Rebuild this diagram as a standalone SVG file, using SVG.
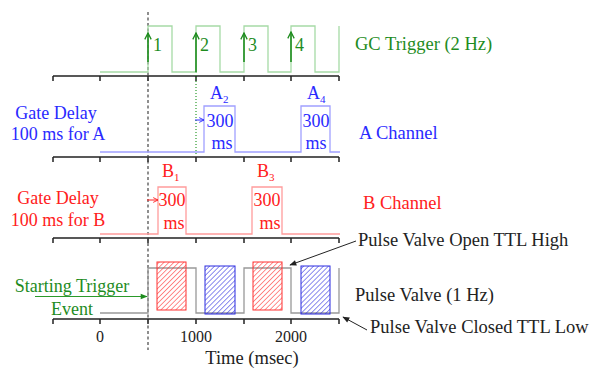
<svg xmlns="http://www.w3.org/2000/svg" width="590" height="369" viewBox="0 0 590 369">
  <style>
    text { font-family: "Liberation Serif", "Times New Roman", serif; font-size: 18px; }
    .lbl { font-size: 18.5px; }
    .g { fill: #1e8c1e; }
    .b { fill: #2a2aff; }
    .r { fill: #ff2020; }
    .k { fill: #222; }
    .sub { font-size: 11px; }
    .num { font-size: 16px; }
    .axis { stroke: #222; stroke-width: 1.5; fill: none; }
    .wave { fill: none; stroke-width: 1.3; }
  </style>
  <defs>
    <marker id="chev" viewBox="0 0 10 10" refX="9" refY="5" markerWidth="8" markerHeight="8" orient="auto" markerUnits="userSpaceOnUse">
      <path d="M1,1 L9,5 L1,9" fill="none" stroke="#1e8c1e" stroke-width="1.6"/>
    </marker>
    <marker id="headB" viewBox="0 0 10 10" refX="9" refY="5" markerWidth="6" markerHeight="6" orient="auto" markerUnits="userSpaceOnUse">
      <path d="M1,1 L9,5 L1,9" fill="none" stroke="#2a2aff" stroke-width="1.5"/>
    </marker>
    <marker id="headR" viewBox="0 0 10 10" refX="9" refY="5" markerWidth="6" markerHeight="6" orient="auto" markerUnits="userSpaceOnUse">
      <path d="M1,1 L9,5 L1,9" fill="none" stroke="#ff2020" stroke-width="1.5"/>
    </marker>
    <marker id="headG" viewBox="0 0 10 10" refX="9" refY="5" markerWidth="8" markerHeight="7" orient="auto" markerUnits="userSpaceOnUse">
      <path d="M0,1 L10,5 L0,9 Z" fill="#1e8c1e"/>
    </marker>
    <marker id="headK" viewBox="0 0 10 10" refX="9" refY="5" markerWidth="9" markerHeight="7" orient="auto" markerUnits="userSpaceOnUse">
      <path d="M0,1 L10,5 L0,9 Z" fill="#222"/>
    </marker>
    <pattern id="hatchR" width="3.5" height="3.5" patternUnits="userSpaceOnUse" patternTransform="rotate(45)">
      <line x1="0" y1="0" x2="0" y2="3.5" stroke="#ff3030" stroke-width="1.1"/>
    </pattern>
    <pattern id="hatchB" width="3.5" height="3.5" patternUnits="userSpaceOnUse" patternTransform="rotate(45)">
      <line x1="0" y1="0" x2="0" y2="3.5" stroke="#2a2ae0" stroke-width="1.1"/>
    </pattern>
  </defs>

  <!-- time axes, one under each trace -->
  <g id="axes">
    <path class="axis" d="M53,76 H339 M53,157 H339 M53,238 H339 M53,319 H339"/>
    <path class="axis" stroke-width="1.2"
      d="M53,76 v5 M100,76 v5 M148,76 v5 M196,76 v5 M244,76 v5 M291,76 v5 M339,76 v5
         M53,157 v5 M100,157 v5 M148,157 v5 M196,157 v5 M244,157 v5 M291,157 v5 M339,157 v5
         M53,238 v5 M100,238 v5 M148,238 v5 M196,238 v5 M244,238 v5 M291,238 v5 M339,238 v5
         M53,319 v5 M100,319 v5 M148,319 v5 M196,319 v5 M244,319 v5 M291,319 v5 M339,319 v5"/>
    <text class="k num" x="100" y="342" text-anchor="middle">0</text>
    <text class="k num" x="196" y="342" text-anchor="middle">1000</text>
    <text class="k num" x="291" y="342" text-anchor="middle">2000</text>
    <text class="k lbl" x="252" y="364" text-anchor="middle">Time (msec)</text>
  </g>

  <!-- reference lines: start event and first triggered gate -->
  <g id="guides">
    <line x1="148" y1="12" x2="148" y2="350" stroke="#444" stroke-width="1.2" stroke-dasharray="3,2.5"/>
    <line x1="196" y1="72" x2="196" y2="156" stroke="#2a9a2a" stroke-width="1.2" stroke-dasharray="1,2"/>
  </g>

  <!-- GC trigger trace -->
  <g id="gc-trigger">
    <path class="wave" stroke="#a6daa6" d="M100,72 H148 V26 H172 V72 H196 V26 H220 V72 H244 V26 H268 V72 H291 V26 H315 V72 H339 V26"/>
    <g stroke="#1e8c1e" stroke-width="1.6">
      <line x1="148" y1="62" x2="148" y2="33" marker-end="url(#chev)"/>
      <line x1="196" y1="72" x2="196" y2="33" marker-end="url(#chev)"/>
      <line x1="244" y1="62" x2="244" y2="33" marker-end="url(#chev)"/>
      <line x1="291" y1="62" x2="291" y2="32" marker-end="url(#chev)"/>
    </g>
    <text class="g" x="153" y="51">1</text>
    <text class="g" x="200" y="51">2</text>
    <text class="g" x="248" y="51">3</text>
    <text class="g" x="295" y="51">4</text>
    <text class="g lbl" x="355" y="50">GC Trigger (2 Hz)</text>
  </g>

  <!-- A channel trace -->
  <g id="a-channel">
    <path class="wave" stroke="#a0a0ff" d="M100,152 H204 V106 H235 V152 H301 V106 H330 V152 H340"/>
    <text class="b" x="56" y="119" text-anchor="middle">Gate Delay</text>
    <text class="b" x="58" y="140" text-anchor="middle">100 ms for A</text>
    <line x1="195" y1="120" x2="204" y2="120" stroke="#2a2aff" stroke-width="1" marker-end="url(#headB)"/>
    <text class="b" x="210" y="99">A<tspan class="sub" dy="4">2</tspan></text>
    <text class="b" x="220" y="127" text-anchor="middle">300</text>
    <text class="b" x="222" y="149" text-anchor="middle">ms</text>
    <text class="b" x="307" y="99">A<tspan class="sub" dy="4">4</tspan></text>
    <text class="b" x="316" y="127" text-anchor="middle">300</text>
    <text class="b" x="316" y="149" text-anchor="middle">ms</text>
    <text class="b lbl" x="359" y="139">A Channel</text>
  </g>

  <!-- B channel trace -->
  <g id="b-channel">
    <path class="wave" stroke="#ff9c9c" d="M100,234 H158 V187 H186 V234 H252 V187 H282 V234 H340"/>
    <text class="r" x="58" y="204" text-anchor="middle">Gate Delay</text>
    <text class="r" x="58" y="226" text-anchor="middle">100 ms for B</text>
    <line x1="147" y1="200" x2="158" y2="200" stroke="#ff2020" stroke-width="1" marker-end="url(#headR)"/>
    <text class="r" x="162" y="177">B<tspan class="sub" dy="4">1</tspan></text>
    <text class="r" x="172" y="206" text-anchor="middle">300</text>
    <text class="r" x="174" y="229" text-anchor="middle">ms</text>
    <text class="r" x="257" y="177">B<tspan class="sub" dy="4">3</tspan></text>
    <text class="r" x="267" y="206" text-anchor="middle">300</text>
    <text class="r" x="270" y="229" text-anchor="middle">ms</text>
    <text class="r lbl" x="363" y="209">B Channel</text>
  </g>

  <!-- pulse valve trace with gated sample windows -->
  <g id="pulse-valve">
    <path class="wave" stroke="#999" d="M100,313 H148 V268 H196 V313 H244 V268 H291 V313 H339 V268"/>
    <rect x="157" y="262" width="29" height="48" fill="url(#hatchR)" stroke="#ff3030" stroke-width="1"/>
    <rect x="205" y="266" width="30" height="48" fill="url(#hatchB)" stroke="#2a2ae0" stroke-width="1"/>
    <rect x="253" y="262" width="29" height="48" fill="url(#hatchR)" stroke="#ff3030" stroke-width="1"/>
    <rect x="301" y="266" width="29" height="48" fill="url(#hatchB)" stroke="#2a2ae0" stroke-width="1"/>
    <text class="k lbl" x="355" y="301">Pulse Valve (1 Hz)</text>
  </g>

  <g id="start-event">
    <text class="g" x="72" y="292" text-anchor="middle">Starting Trigger</text>
    <text class="g" x="72" y="315" text-anchor="middle">Event</text>
  </g>

  <g id="valve-open-label">
    <text class="k lbl" x="358" y="246">Pulse Valve Open TTL High</text>
  </g>
  <g id="valve-closed-label">
    <text class="k lbl" x="370" y="333">Pulse Valve Closed TTL Low</text>
  </g>

  <!-- annotation connectors -->
  <g id="connectors">
    <line x1="35" y1="296.5" x2="147" y2="296.5" stroke="#2a9a2a" stroke-width="1.2" marker-end="url(#headG)"/>
    <line x1="356" y1="241" x2="290" y2="265" stroke="#222" stroke-width="1" marker-end="url(#headK)"/>
    <line x1="367" y1="330" x2="343" y2="317" stroke="#222" stroke-width="1" marker-end="url(#headK)"/>
  </g>
</svg>
